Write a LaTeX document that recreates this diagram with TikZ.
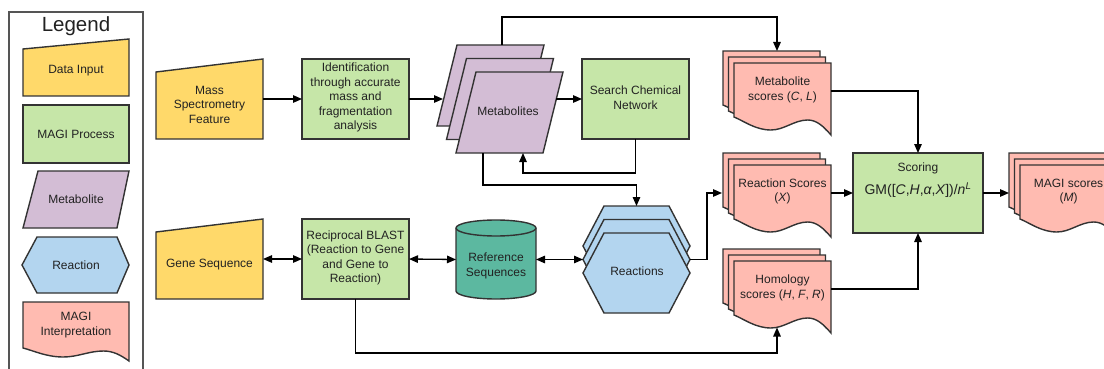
\documentclass[tikz,border=0pt]{standalone}
\usepackage{fontspec}
\setmainfont{Liberation Sans}
\usetikzlibrary{arrows.meta,calc}
\definecolor{yellowc}{HTML}{FFD96A}
\definecolor{greenc}{HTML}{C6E6A8}
\definecolor{purplec}{HTML}{D3BDD5}
\definecolor{bluec}{HTML}{B3D5EF}
\definecolor{pinkc}{HTML}{FFBBB1}
\definecolor{tealc}{HTML}{5CB8A0}
\definecolor{edgec}{HTML}{333333}
\definecolor{textc}{HTML}{222222}
\definecolor{framec}{HTML}{555555}
\tikzset{
  edge/.style={draw=edgec, line width=1.4pt, line join=miter},
  conn/.style={draw=black, line width=1.3pt, -{Triangle[length=9pt,width=7.5pt]}},
  dconn/.style={draw=black, line width=1.3pt, {Triangle[length=9pt,width=7.5pt]}-{Triangle[length=9pt,width=7.5pt]}},
  bbx/.style={draw=none, inner sep=0pt, outer sep=0pt, rectangle},
  txt/.style={font=\fontsize{12}{14.5}\selectfont, align=center, inner sep=0pt, text=textc},
}
% document shape: x, y (top-left), width, a (left corner), b (trough), c (crest), d (right corner)
\newcommand{\magidoc}[7]{%
  \path[edge, fill=pinkc] (#1,#2) -- ({#1+#3},#2) -- ({#1+#3},{#2+#7})
    .. controls ({#1+0.92*#3},{#2+#7-0.6*(#7-#6)}) and ({#1+0.85*#3},{#2+#6}) .. ({#1+0.76*#3},{#2+#6})
    .. controls ({#1+0.62*#3},{#2+#6}) and ({#1+0.52*#3},{#2+#5}) .. ({#1+0.38*#3},{#2+#5})
    .. controls ({#1+0.22*#3},{#2+#5}) and ({#1+0.10*#3},{#2+#4+0.3*(#5-#4)}) .. (#1,{#2+#4}) -- cycle;}
\newcommand{\docstack}[2]{%
  \magidoc{#1-11}{#2-12}{97}{54}{67}{57}{72}%
  \magidoc{#1-5.5}{#2-6}{97}{54}{67}{57}{72}%
  \magidoc{#1}{#2}{97}{54}{67}{57}{72}}
% parallelogram: bottom-left x, top y
\newcommand{\metpara}[2]{%
  \path[edge, fill=purplec] ({#1+20},#2) -- ({#1+107},#2) -- ({#1+87},{#2+81}) -- (#1,{#2+81}) -- cycle;}
% hexagon: left x, top y
\newcommand{\reachex}[2]{%
  \path[edge, fill=bluec] (#1,{#2+40}) -- ({#1+21},#2) -- ({#1+86},#2) -- ({#1+107},{#2+40}) -- ({#1+86},{#2+80}) -- ({#1+21},{#2+80}) -- cycle;}
\begin{document}
\begin{tikzpicture}[x=1pt,y=-1pt]
\useasboundingbox (0,0) rectangle (1104,369);
\clip (0,0) rectangle (1104,369);
% ---------------- Legend ----------------
\draw[draw=framec, line width=1.3pt] (9,12) rectangle (143,380);
\node[txt, font=\fontsize{20.5}{24}\selectfont] (legtitle) at (76,26) {Legend};
\path[edge, fill=yellowc] (23,49) -- (129,39) -- (129,96) -- (23,96) -- cycle;
\node[txt] (legin) at (76,71) {Data Input};
\path[edge, fill=greenc] (23,105) rectangle (129,163);
\node[txt] (legproc) at (76,134) {MAGI Process};
\path[edge, fill=purplec] (38,171) -- (129,171) -- (117,228) -- (23,228) -- cycle;
\node[txt] (legmet) at (76,199) {Metabolite};
\path[edge, fill=bluec] (22,265) -- (37,237) -- (117,237) -- (129,265) -- (117,293) -- (37,293) -- cycle;
\node[txt] (legreac) at (76,265) {Reaction};
\magidoc{23}{302}{106}{46}{55}{49}{59}
\node[txt] (leginterp) at (76,325) {MAGI\\Interpretation};
% ---------------- Top row ----------------
\node[bbx, minimum width=107, minimum height=80] (ms) at (209.5,99) {};
\path[edge, fill=yellowc] (156,72) -- (263,59) -- (263,139) -- (156,139) -- cycle;
\node[txt] (mst) at (209.5,104.5) {Mass\\Spectrometry\\Feature};
\node[bbx, edge, fill=greenc, minimum width=107, minimum height=80] (ident) at (355.5,99) {};
\node[txt] (identt) at (355.5,97.5) {Identification\\through accurate\\mass and\\fragmentation\\analysis};
% metabolites stack
\node[bbx, minimum width=107, minimum height=81] (metback) at (490.5,85.5) {};
\node[bbx, minimum width=107, minimum height=81] (metmid) at (500,99) {};
\node[bbx, minimum width=107, minimum height=81] (met) at (509.5,112.5) {};
\metpara{437}{45}
\metpara{446.5}{58.5}
\metpara{456}{72}
\node[txt] (mett) at (508,111) {Metabolites};
\node[bbx, edge, fill=greenc, minimum width=107, minimum height=80] (search) at (635.5,99) {};
\node[txt] (searcht) at (635.5,97.5) {Search Chemical\\Network};
% metabolite scores stack
\node[bbx, minimum width=97, minimum height=72] (metscback) at (771.5,87) {};
\node[bbx, minimum width=97, minimum height=72] (metsc) at (782.5,99) {};
\docstack{734}{63}
\node[txt] (metsct) at (782.5,90) {Metabolite\\scores (\textit{C}, \textit{L})};
% ---------------- Scoring row ----------------
\node[bbx, minimum width=97, minimum height=72] (reacscback) at (771.5,189) {};
\node[bbx, minimum width=97, minimum height=72] (reacsc) at (782.5,201) {};
\docstack{734}{165}
\node[txt] (reacsct) at (782.5,191.5) {Reaction Scores\\(\textit{X})};
\node[bbx, edge, fill=greenc, minimum width=130, minimum height=80] (scoring) at (918,193) {};
\node[txt] (scoringt) at (918,168) {Scoring};
\node[txt, font=\fontsize{14}{16}\selectfont] (formula) at (918,190) {GM([\textit{C},\textit{H},\textit{α},\textit{X}])/\textit{n}\textsuperscript{\textit{L}}};
\node[bbx, minimum width=97, minimum height=72] (magiback) at (1057.5,189) {};
\node[bbx, minimum width=97, minimum height=72] (magi) at (1068.5,201) {};
\docstack{1020}{165}
\node[txt] (magit) at (1068.5,191.5) {MAGI scores\\(\textit{M})};
% ---------------- Bottom row ----------------
\node[bbx, minimum width=107, minimum height=80] (gene) at (209.5,259) {};
\path[edge, fill=yellowc] (156,232) -- (263,219) -- (263,299) -- (156,299) -- cycle;
\node[txt] (genet) at (209.5,265) {Gene Sequence};
\node[bbx, edge, fill=greenc, minimum width=107, minimum height=80] (blast) at (355.5,259) {};
\node[txt] (blastt) at (355.5,258) {Reciprocal BLAST\\(Reaction to Gene\\and Gene to\\Reaction)};
\node[bbx, minimum width=80, minimum height=79] (refseq) at (496,259.5) {};
\path[edge, fill=tealc] (456,228) -- (456,291) arc[start angle=180, end angle=360, x radius=40pt, y radius=8pt]
  -- (536,228) arc[start angle=0, end angle=180, x radius=40pt, y radius=8pt] -- cycle;
\draw[edge] (536,228) arc[start angle=0, end angle=-180, x radius=40pt, y radius=8pt];
\node[txt] (refseqt) at (496,266) {Reference\\Sequences};
\node[bbx, minimum width=107, minimum height=80] (reacback) at (636.5,246) {};
\node[bbx, minimum width=107, minimum height=80] (reacmid) at (636.5,259.5) {};
\node[bbx, minimum width=107, minimum height=80] (reac) at (636.5,273) {};
\reachex{583}{206}
\reachex{583}{219.5}
\reachex{583}{233}
\node[txt] (reactt) at (637,271) {Reactions};
\node[bbx, minimum width=97, minimum height=72] (homscback) at (771.5,285) {};
\node[bbx, minimum width=97, minimum height=72] (homsc) at (782.5,297) {};
\docstack{734}{261}
\node[txt] (homsct) at (782.5,288) {Homology\\scores (\textit{H}, \textit{F}, \textit{R})};
% ---------------- connector end points ----------------
\coordinate (metin) at (443,99);
\coordinate (metout) at (556,99);
\coordinate (metret) at (523,153);
\coordinate (metbot) at (483,153);
\coordinate (mettop) at (502,45);
\coordinate (metscin) at (777,51);
\coordinate (metscout) at (831,91);
\coordinate (reacscin) at (722,193);
\coordinate (homout) at (831,289);
\coordinate (homin) at (777,327.5);
% ---------------- connectors ----------------
\draw[conn] (ms.east) -- (ident.west);
\draw[conn] (ident.east) -- (metin);
\draw[conn] (metout) -- (search.west);
\draw[conn] (search.south) -- ++(0,34) -| (metret);
\draw[conn] (metbot) -- ++(0,32) -| (reacback.north);
\draw[conn] (mettop) -- ++(0,-28) -| (metscin);
\draw[conn] (metscout) -| (scoring.north);
\draw[conn] (reacsc.east |- scoring.west) -- (scoring.west);
\draw[conn] (scoring.east) -- (scoring.east -| magiback.west);
\draw[conn] (reacmid.east) -- ++(17,0) |- (reacscin);
\draw[conn] (homout) -| (scoring.south);
\draw[conn] (blast.south) -- ++(0,54) -| (homin);
\draw[dconn] (gene.east) -- (blast.west);
\draw[dconn] (blast.east) -- (refseq.west);
\draw[dconn] (refseq.east) -- (reacmid.west);
\end{tikzpicture}
\end{document}
